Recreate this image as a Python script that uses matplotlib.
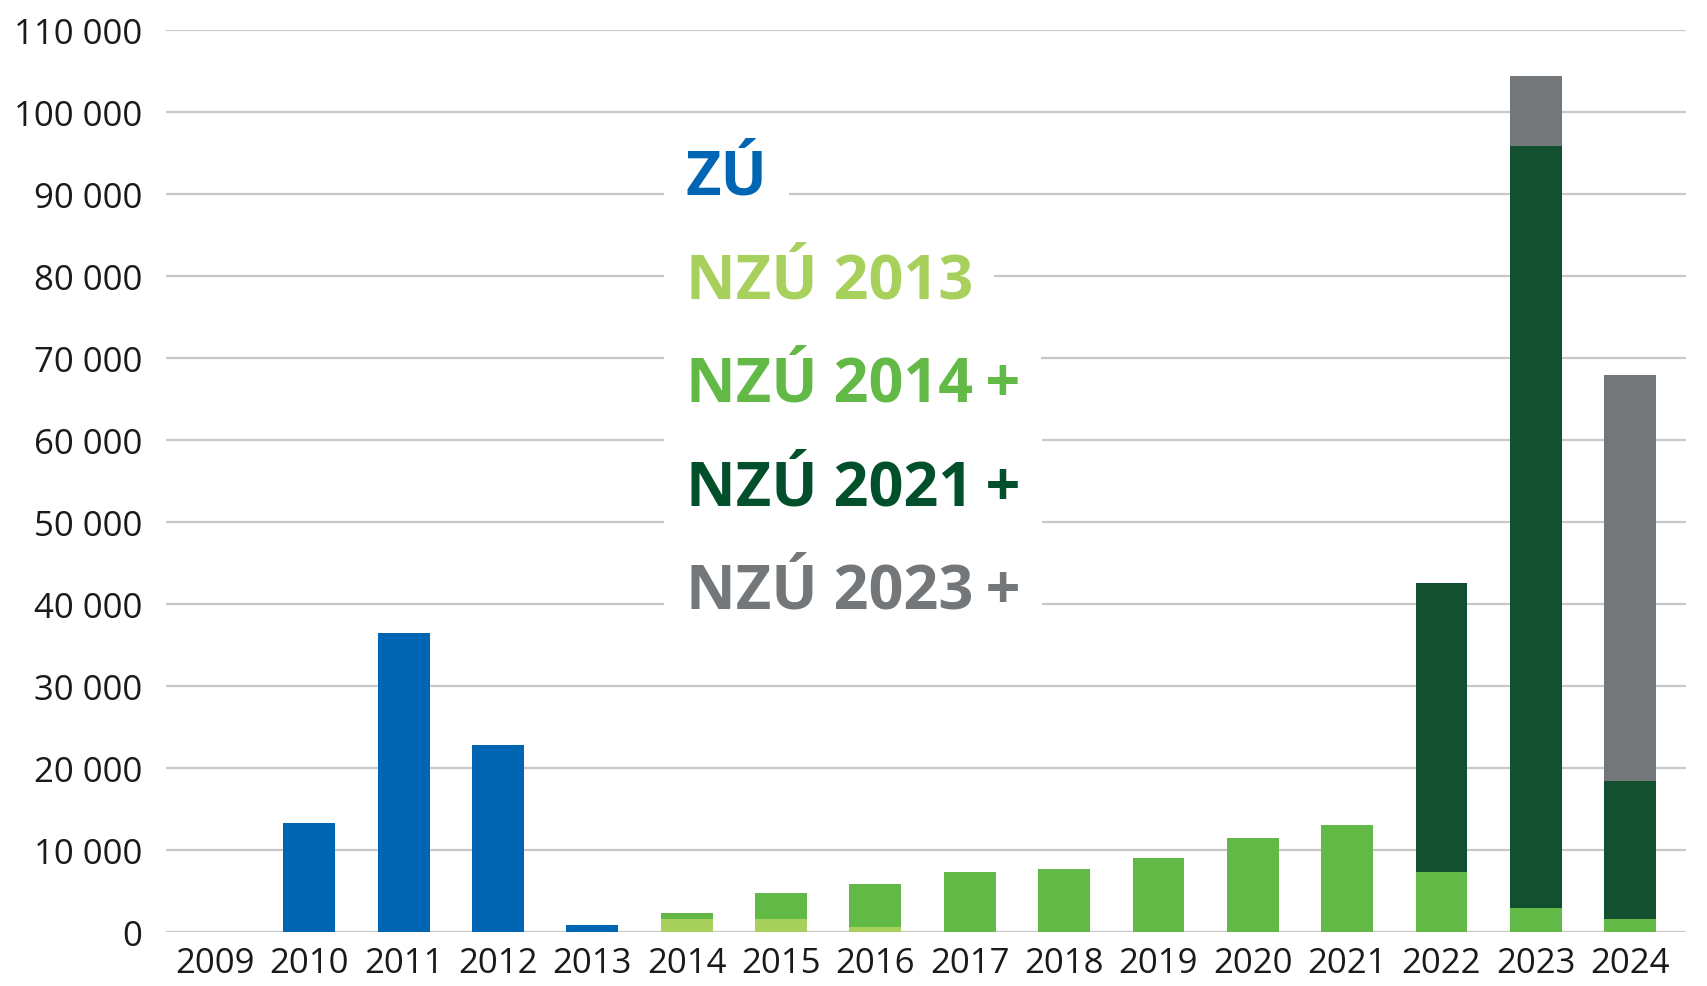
import numpy as np
import matplotlib
matplotlib.use("Agg")
import matplotlib.pyplot as plt
from matplotlib.ticker import FuncFormatter

plt.rcParams['font.family'] = ['Open Sans', 'DejaVu Sans']

# data
years = ['2009', '2010', '2011', '2012', '2013', '2014', '2015', '2016',
         '2017', '2018', '2019', '2020', '2021', '2022', '2023', '2024']
zu = [0, 13300, 36500, 22800, 800, 0, 0, 0, 0, 0, 0, 0, 0, 0, 0, 0]
nzu_2013 = [0, 0, 0, 0, 0, 1550, 1550, 550, 0, 0, 0, 0, 0, 0, 0, 0]
nzu_2014 = [0, 0, 0, 0, 0, 750, 3200, 5350, 7300, 7700, 9000, 11400, 13100, 7300, 2900, 1600]
nzu_2021 = [0, 0, 0, 0, 0, 0, 0, 0, 0, 0, 0, 0, 0, 35200, 92900, 16800]
nzu_2023 = [0, 0, 0, 0, 0, 0, 0, 0, 0, 0, 0, 0, 0, 0, 8600, 49500]

series_names = ['ZÚ', 'NZÚ 2013', 'NZÚ 2014\u2009+', 'NZÚ 2021\u2009+', 'NZÚ 2023\u2009+']
series_colors = ['#0066b3', '#a8d05c', '#62b946', '#125030', '#73777a']
label_colors = ['#0066b3', '#a8d05c', '#62b946', '#024f2b', '#73777a']

fig = plt.figure(figsize=(17.08, 9.87), dpi=100)
ax = fig.add_axes([0.0972, 0.0547, 0.8898, 0.9143])

x = np.arange(len(years))
bottom = np.zeros(len(years))
for vals, col in zip([zu, nzu_2013, nzu_2014, nzu_2021, nzu_2023], series_colors):
    vals = np.array(vals, dtype=float)
    ax.bar(x, vals, width=0.55, bottom=bottom, color=col, zorder=3, linewidth=0)
    bottom += vals

ax.set_ylim(0, 110000)
ax.set_xlim(-0.52, 15.59)
ax.set_yticks(np.arange(0, 110001, 10000))
ax.yaxis.set_major_formatter(FuncFormatter(lambda v, p: f"{int(v):,}".replace(',', ' ')))
ax.set_xticks(x)
ax.set_xticklabels(years)
ax.grid(axis='y', color='#c8c8c8', linewidth=1.6, zorder=0)
ax.set_axisbelow(True)
for s in ax.spines.values():
    s.set_visible(False)
ax.tick_params(length=0, labelsize=25, colors='#1a1a1a', pad=10)
ax.tick_params(axis='y', pad=17)

# legend as coloured text blocks
for i, (name, col) in enumerate(zip(series_names, label_colors)):
    ax.text(0.342, 0.835 - i * 0.1146, name, transform=ax.transAxes,
            fontsize=44, fontweight='bold', color=col, va='center', ha='left',
            zorder=5,
            bbox=dict(boxstyle='square,pad=0.35', facecolor='white', edgecolor='none'))

fig.savefig('out.png', dpi=100)
